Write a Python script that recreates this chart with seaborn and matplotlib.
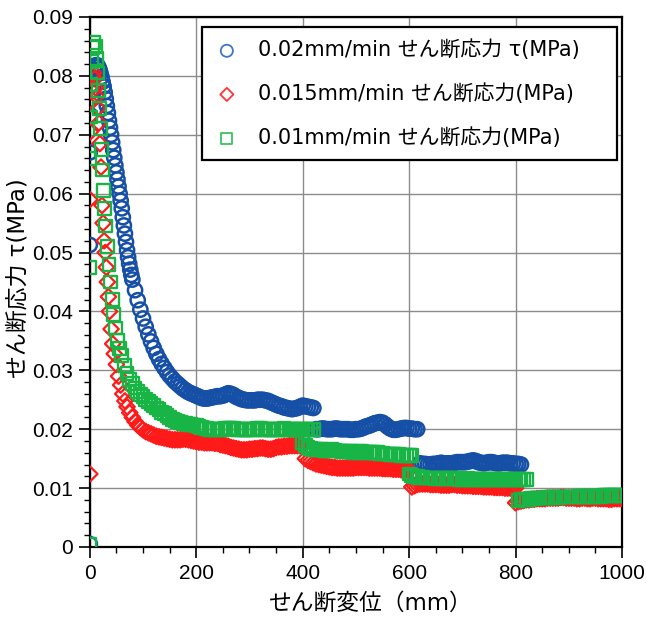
import numpy as np
import pandas as pd
import matplotlib
matplotlib.use("Agg")
import matplotlib.pyplot as plt
import seaborn as sns
from matplotlib.ticker import MultipleLocator, FuncFormatter

# ---------------- data ----------------
# 0.02 mm/min
blue_x = [0, 0, 0, 1, 3, 5, 8, 11,
          14, 16, 18, 20, 22, 24, 26, 28, 30, 32, 34, 36, 38, 40, 42, 44, 46, 48,
          50, 52, 54, 56, 58, 60, 62, 64, 66, 68, 70, 72, 74, 76, 78, 80,
          85, 90, 95, 100, 105, 110, 115, 120, 125, 130, 135, 140, 145, 150,
          155, 160, 165, 170, 175, 180, 185, 190, 195, 200,
          205, 210, 215, 220, 225, 230, 235, 240, 245, 250, 255, 260, 265, 270,
          275, 280, 285, 290, 295, 300, 305, 310, 315, 320, 325, 330, 335, 340,
          345, 350, 355, 360, 365, 370, 375, 380, 385, 390, 395, 400, 405, 410,
          415, 420,
          425, 430, 435, 440, 445, 450, 455, 460, 465, 470, 475, 480, 485, 490,
          495, 500, 505, 510, 515, 520, 525, 530, 535, 540, 545, 550, 555, 560,
          565, 570, 575, 580, 585, 590, 595, 600, 605, 610, 615,
          620, 625, 630, 635, 640, 645, 650, 655, 660, 665, 670, 675, 680, 685,
          690, 695, 700, 705, 710, 715, 720, 725, 730, 735, 740, 745, 750, 755,
          760, 765, 770, 775, 780, 785, 790, 795, 800, 805, 810]
blue_y = [0.0005, 0.0513, 0.0670, 0.0733, 0.0775, 0.0795, 0.0810, 0.0818,
          0.0818, 0.0815, 0.0811, 0.0805, 0.0798, 0.0790, 0.0782, 0.0772, 0.0761, 0.0749,
          0.0737, 0.0724, 0.0712, 0.0700, 0.0687, 0.0674, 0.0661, 0.0648,
          0.0636, 0.0624, 0.0612, 0.0600, 0.0588, 0.0575, 0.0560, 0.0546, 0.0532, 0.0518,
          0.0504, 0.0492, 0.0481, 0.0471, 0.0462, 0.0454,
          0.0436, 0.0419, 0.0403, 0.0388, 0.0374, 0.0361, 0.0349, 0.0338, 0.0328, 0.0319,
          0.0311, 0.0304, 0.0297, 0.0291,
          0.0286, 0.0281, 0.0277, 0.0273, 0.0269, 0.0266, 0.0263, 0.0261, 0.0259, 0.0257,
          0.0255, 0.0253, 0.0252, 0.0252, 0.0253, 0.0254, 0.0255, 0.0256, 0.0256, 0.0257,
          0.0259, 0.0261, 0.0260, 0.0258,
          0.0255, 0.0253, 0.0251, 0.0250, 0.0249, 0.0249, 0.0249, 0.0249, 0.0250, 0.0250,
          0.0250, 0.0249, 0.0248, 0.0246,
          0.0244, 0.0242, 0.0240, 0.0239, 0.0237, 0.0236, 0.0235, 0.0234, 0.0235, 0.0236,
          0.0238, 0.0240, 0.0239, 0.0238,
          0.0237, 0.0236,
          0.0200, 0.0200, 0.0201, 0.0201, 0.0200, 0.0200, 0.0200, 0.0201, 0.0201, 0.0200,
          0.0200, 0.0200, 0.0200, 0.0199,
          0.0199, 0.0200, 0.0200, 0.0201, 0.0203, 0.0205, 0.0206, 0.0208, 0.0210, 0.0211,
          0.0212, 0.0211, 0.0208, 0.0204,
          0.0201, 0.0199, 0.0199, 0.0200, 0.0201, 0.0202, 0.0202, 0.0201, 0.0201, 0.0200,
          0.0200,
          0.0142, 0.0141, 0.0141, 0.0140, 0.0140, 0.0141, 0.0141, 0.0142, 0.0143, 0.0142,
          0.0142, 0.0142, 0.0142, 0.0143,
          0.0144, 0.0144, 0.0144, 0.0144, 0.0145, 0.0146, 0.0147, 0.0146, 0.0144, 0.0143,
          0.0142, 0.0143, 0.0144, 0.0144,
          0.0143, 0.0142, 0.0142, 0.0143, 0.0143, 0.0143, 0.0142, 0.0142, 0.0141, 0.0141,
          0.0140]

# 0.015 mm/min
red_x = [0, 0, 1, 2, 3, 5, 7, 9, 11, 13, 15, 17, 19, 21, 23, 25, 27, 29, 31, 33,
         35, 37, 40, 43, 46, 50, 54, 58, 62, 66, 70, 75, 80, 85, 90, 95, 100,
         105, 110, 115, 120, 125, 130, 135, 140, 145, 150, 155, 160, 165, 170,
         175, 180, 185, 190, 195, 200, 205, 210, 215, 220, 225, 230, 235, 240,
         245, 250, 255, 260, 265, 270, 275, 280, 285, 290, 295, 300, 305, 310,
         315, 320, 325, 330, 335, 340, 345, 350, 355, 360, 365, 370, 375, 380,
         385, 390, 395, 400,
         405, 410, 415, 420, 425, 430, 435, 440, 445, 450, 455, 460, 465, 470,
         475, 480, 485, 490, 495, 500, 505, 510, 515, 520, 525, 530, 535, 540,
         545, 550, 555, 560, 565, 570, 575, 580, 585, 590, 595, 600,
         605, 610, 615, 620, 625, 630, 635, 640, 645, 650, 655, 660, 665, 670,
         675, 680, 685, 690, 695, 700, 705, 710, 715, 720, 725, 730, 735, 740,
         745, 750, 755, 760, 765, 770, 775, 780, 785, 790, 795, 800,
         800, 805, 810, 815, 820, 825, 830, 835, 840, 845, 850, 855, 860, 865,
         870, 875, 880, 885, 890, 895, 900, 905, 910, 915, 920, 925, 930, 935,
         940, 945, 950, 955, 960, 965, 970, 975, 980, 985, 990, 995, 1000]
red_y = [0.0124, 0.0590, 0.0705, 0.0755, 0.0780, 0.0800, 0.0805, 0.0795, 0.0780,
         0.0765, 0.0745, 0.0720, 0.0685, 0.0645, 0.0580, 0.0550, 0.0520, 0.0500,
         0.0475, 0.0450,
         0.0425, 0.0400, 0.0370, 0.0345, 0.0328, 0.0310, 0.0290, 0.0275, 0.0260,
         0.0248, 0.0238, 0.0228, 0.0220, 0.0213, 0.0207, 0.0203, 0.0199,
         0.0196, 0.0194, 0.0192, 0.0190, 0.0188, 0.0187, 0.0186, 0.0185, 0.0184,
         0.0183, 0.0182, 0.0182, 0.0182, 0.0182,
         0.0183, 0.0183, 0.0182, 0.0181, 0.0180, 0.0179, 0.0178, 0.0178, 0.0177,
         0.0177, 0.0177, 0.0177, 0.0176, 0.0176,
         0.0174, 0.0173, 0.0172, 0.0171, 0.0169, 0.0168, 0.0167, 0.0166, 0.0165,
         0.0165, 0.0165, 0.0166, 0.0166, 0.0167,
         0.0167, 0.0168, 0.0168, 0.0167, 0.0166, 0.0166, 0.0167, 0.0169, 0.0170,
         0.0170, 0.0171, 0.0171, 0.0172, 0.0172,
         0.0172, 0.0172, 0.0172, 0.0172,
         0.0150, 0.0147, 0.0145, 0.0143, 0.0141, 0.0140, 0.0139, 0.0138, 0.0137,
         0.0136, 0.0135, 0.0135, 0.0134, 0.0134,
         0.0134, 0.0134, 0.0134, 0.0134, 0.0134, 0.0135, 0.0135, 0.0135, 0.0135,
         0.0135, 0.0134, 0.0134, 0.0134, 0.0134,
         0.0134, 0.0133, 0.0133, 0.0133, 0.0133, 0.0132, 0.0132, 0.0132, 0.0131,
         0.0131, 0.0131, 0.0131,
         0.0102, 0.0104, 0.0106, 0.0107, 0.0107, 0.0107, 0.0107, 0.0106, 0.0106,
         0.0106, 0.0106, 0.0105, 0.0105, 0.0105,
         0.0105, 0.0106, 0.0106, 0.0105, 0.0105, 0.0104, 0.0104, 0.0104, 0.0104,
         0.0103, 0.0103, 0.0103, 0.0103, 0.0102,
         0.0102, 0.0102, 0.0102, 0.0101, 0.0101, 0.0101, 0.0101, 0.0100, 0.0100,
         0.0100, 0.0100, 0.0100,
         0.0075, 0.0077, 0.0078, 0.0079, 0.0080, 0.0080, 0.0081, 0.0081, 0.0082,
         0.0082, 0.0082, 0.0082, 0.0083, 0.0083,
         0.0083, 0.0083, 0.0083, 0.0084, 0.0084, 0.0083, 0.0083, 0.0083, 0.0083,
         0.0082, 0.0082, 0.0083, 0.0083, 0.0082,
         0.0082, 0.0083, 0.0083, 0.0082, 0.0082, 0.0082, 0.0082, 0.0081, 0.0081,
         0.0082, 0.0082, 0.0082, 0.0082]

# 0.01 mm/min
green_x = [0, 0, 0, 1, 2, 4, 6, 8, 10, 12, 14, 16, 18, 20, 22, 24, 26, 28, 30,
           33, 36, 39, 42, 45, 48, 52, 56, 60, 65, 70, 75, 80, 85, 90, 95, 100,
           105, 110, 115, 120, 125, 130, 135, 140, 145, 150, 155, 160, 165, 170,
           175, 180, 185, 190, 195, 200, 205, 210, 215, 220, 225, 230, 235, 240,
           245, 250, 255, 260, 265, 270, 275, 280, 285, 290, 295, 300, 305, 310,
           315, 320, 325, 330, 335, 340, 345, 350, 355, 360, 365, 370, 375, 380,
           385, 390, 395, 400, 405, 410, 415, 420,
           400, 405, 410, 415, 420, 425, 430, 435, 440, 445, 450, 455, 460, 465,
           470, 475, 480, 485, 490, 495, 500, 505, 510, 515, 520, 525, 530, 535,
           540, 545, 550, 555, 560, 565, 570, 575, 580, 585, 590, 595, 600, 605,
           600, 605, 610, 615, 620, 625, 630, 635, 640, 645, 650, 655, 660, 665,
           670, 675, 680, 685, 690, 695, 700, 705, 710, 715, 720, 725, 730, 735,
           740, 745, 750, 755, 760, 765, 770, 775, 780, 785, 790, 795, 800, 805,
           810, 815, 820,
           805, 810, 815, 820, 825, 830, 835, 840, 845, 850, 855, 860, 865, 870,
           875, 880, 885, 890, 895, 900, 905, 910, 915, 920, 925, 930, 935, 940,
           945, 950, 955, 960, 965, 970, 975, 980, 985, 990, 995, 1000]
green_y = [0.0005, 0.0475, 0.0660, 0.0730, 0.0785, 0.0825, 0.0848, 0.0857, 0.0850,
           0.0830, 0.0805, 0.0775, 0.0745, 0.0710, 0.0675, 0.0640, 0.0605, 0.0575,
           0.0545,
           0.0510, 0.0480, 0.0450, 0.0420, 0.0395, 0.0372, 0.0350, 0.0337, 0.0325,
           0.0308, 0.0295, 0.0285, 0.0277, 0.0270, 0.0264, 0.0259, 0.0255,
           0.0251, 0.0247, 0.0243, 0.0240, 0.0236, 0.0233, 0.0229, 0.0226, 0.0223,
           0.0220, 0.0217, 0.0215, 0.0213, 0.0211,
           0.0210, 0.0209, 0.0208, 0.0208, 0.0207, 0.0206, 0.0204, 0.0203, 0.0202,
           0.0201, 0.0200, 0.0200, 0.0200, 0.0200,
           0.0200, 0.0200, 0.0201, 0.0201, 0.0201, 0.0201, 0.0200, 0.0200, 0.0199,
           0.0199, 0.0200, 0.0200, 0.0200, 0.0200,
           0.0201, 0.0201, 0.0200, 0.0200, 0.0200, 0.0199, 0.0199, 0.0200, 0.0200,
           0.0200, 0.0201, 0.0200, 0.0200, 0.0200,
           0.0200, 0.0200, 0.0199, 0.0199, 0.0200, 0.0200, 0.0200, 0.0200,
           0.0178, 0.0172, 0.0169, 0.0167, 0.0166, 0.0166, 0.0165, 0.0165, 0.0164,
           0.0164, 0.0164, 0.0165, 0.0164, 0.0163,
           0.0163, 0.0162, 0.0162, 0.0162, 0.0162, 0.0161, 0.0161, 0.0162, 0.0162,
           0.0161, 0.0161, 0.0160, 0.0160, 0.0160,
           0.0160, 0.0159, 0.0159, 0.0158, 0.0158, 0.0157, 0.0157, 0.0157, 0.0157,
           0.0156, 0.0156, 0.0156, 0.0155, 0.0155,
           0.0124, 0.0121, 0.0120, 0.0119, 0.0118, 0.0118, 0.0117, 0.0117, 0.0117,
           0.0117, 0.0116, 0.0116, 0.0117, 0.0116,
           0.0116, 0.0116, 0.0116, 0.0116, 0.0116, 0.0115, 0.0115, 0.0115, 0.0116,
           0.0115, 0.0115, 0.0115, 0.0115, 0.0115,
           0.0115, 0.0115, 0.0115, 0.0114, 0.0114, 0.0115, 0.0114, 0.0114, 0.0114,
           0.0114, 0.0114, 0.0114, 0.0114, 0.0114,
           0.0114, 0.0114, 0.0114,
           0.0079, 0.0080, 0.0080, 0.0081, 0.0081, 0.0082, 0.0082, 0.0083, 0.0083,
           0.0083, 0.0083, 0.0084, 0.0084, 0.0084,
           0.0084, 0.0084, 0.0085, 0.0085, 0.0085, 0.0085, 0.0085, 0.0085, 0.0085,
           0.0086, 0.0086, 0.0086, 0.0086, 0.0086,
           0.0086, 0.0086, 0.0086, 0.0086, 0.0087, 0.0087, 0.0087, 0.0087, 0.0087,
           0.0087, 0.0087, 0.0087]

labels = ["0.02mm/min せん断応力 τ(MPa)",
          "0.015mm/min せん断応力(MPa)",
          "0.01mm/min せん断応力(MPa)"]
x_ticks = [0, 200, 400, 600, 800, 1000]
y_ticks = [0, 0.01, 0.02, 0.03, 0.04, 0.05, 0.06, 0.07, 0.08, 0.09]
xlabel = "せん断変位（mm）"
ylabel = "せん断応力 τ(MPa)"

# ---------------- styling ----------------
sns.set_theme(style="white")
plt.rcParams['font.family'] = ['DejaVu Sans', 'Noto Sans CJK JP']
plt.rcParams['axes.unicode_minus'] = False
plt.rcParams['text.color'] = 'black'
plt.rcParams['axes.labelcolor'] = 'black'

fig = plt.figure(figsize=(6.46, 6.17), dpi=100)
ax = fig.add_axes([0.139, 0.1135, 0.824, 0.859])

series = [
    (blue_x, blue_y, "o", "#154fa6", "#3b76cc", 105, 1.8, labels[0]),
    (red_x, red_y, "D", "#ff1a1a", "#ff3333", 62, 1.6, labels[1]),
    (green_x, green_y, "s", "#19b446", "#3cc162", 85, 1.7, labels[2]),
]
for xs, ys, mk, col, _, size, lw, lab in series:
    df = pd.DataFrame({"x": xs, "y": ys})
    sns.scatterplot(data=df, x="x", y="y", marker=mk, s=size,
                    facecolors="none", edgecolor=col, linewidth=lw,
                    ax=ax, label=lab, zorder=3)

ax.set_xlim(0, 1000)
ax.set_ylim(0, 0.09)
ax.set_xticks(x_ticks)
ax.set_yticks(y_ticks)
ax.xaxis.set_minor_locator(MultipleLocator(50))
ax.yaxis.set_minor_locator(MultipleLocator(0.002))
ax.yaxis.set_major_formatter(FuncFormatter(lambda v, p: "0" if abs(v) < 1e-9 else f"{v:.2f}"))
ax.xaxis.set_major_formatter(FuncFormatter(lambda v, p: f"{v:.0f}"))

ax.grid(True, which="major", color="#8c8c8c", linewidth=1.0, zorder=0)
ax.set_axisbelow(True)
for sp in ax.spines.values():
    sp.set_color("black")
    sp.set_linewidth(1.6)
ax.tick_params(axis="both", which="major", direction="out", length=8, width=1.2,
               labelsize=15, color="black", labelcolor="black", pad=4,
               bottom=True, left=True)
ax.tick_params(axis="both", which="minor", direction="out", length=4, width=1.0,
               color="black", bottom=True, left=True)
for t in ax.get_xticklabels() + ax.get_yticklabels():
    t.set_family(['Liberation Sans', 'DejaVu Sans'])

ax.set_xlabel(xlabel, fontsize=16.4, color="black")
ax.set_ylabel(ylabel, fontsize=16.5, color="black")
ax.xaxis.set_label_coords(0.528, -0.085)
ax.yaxis.set_label_coords(-0.113, 0.508)

leg = ax.legend(loc="upper left", bbox_to_anchor=(0.2105, 0.70, 0.7801, 0.281),
                mode="expand", fontsize=15,
                frameon=True, fancybox=False, shadow=False, borderpad=0.6,
                labelspacing=1.1, handlelength=1.2, handletextpad=0.9,
                borderaxespad=0.0, markerscale=0.85)
leg.get_frame().set_edgecolor("black")
leg.get_frame().set_linewidth(1.6)
leg.get_frame().set_facecolor("white")
leg.get_frame().set_alpha(1.0)
for h, s in zip(leg.legend_handles, series):
    h.set_edgecolor(s[4])
    h.set_linewidth(1.3)
for t in leg.get_texts():
    t.set_color("black")

fig.savefig("out.png", dpi=100)
